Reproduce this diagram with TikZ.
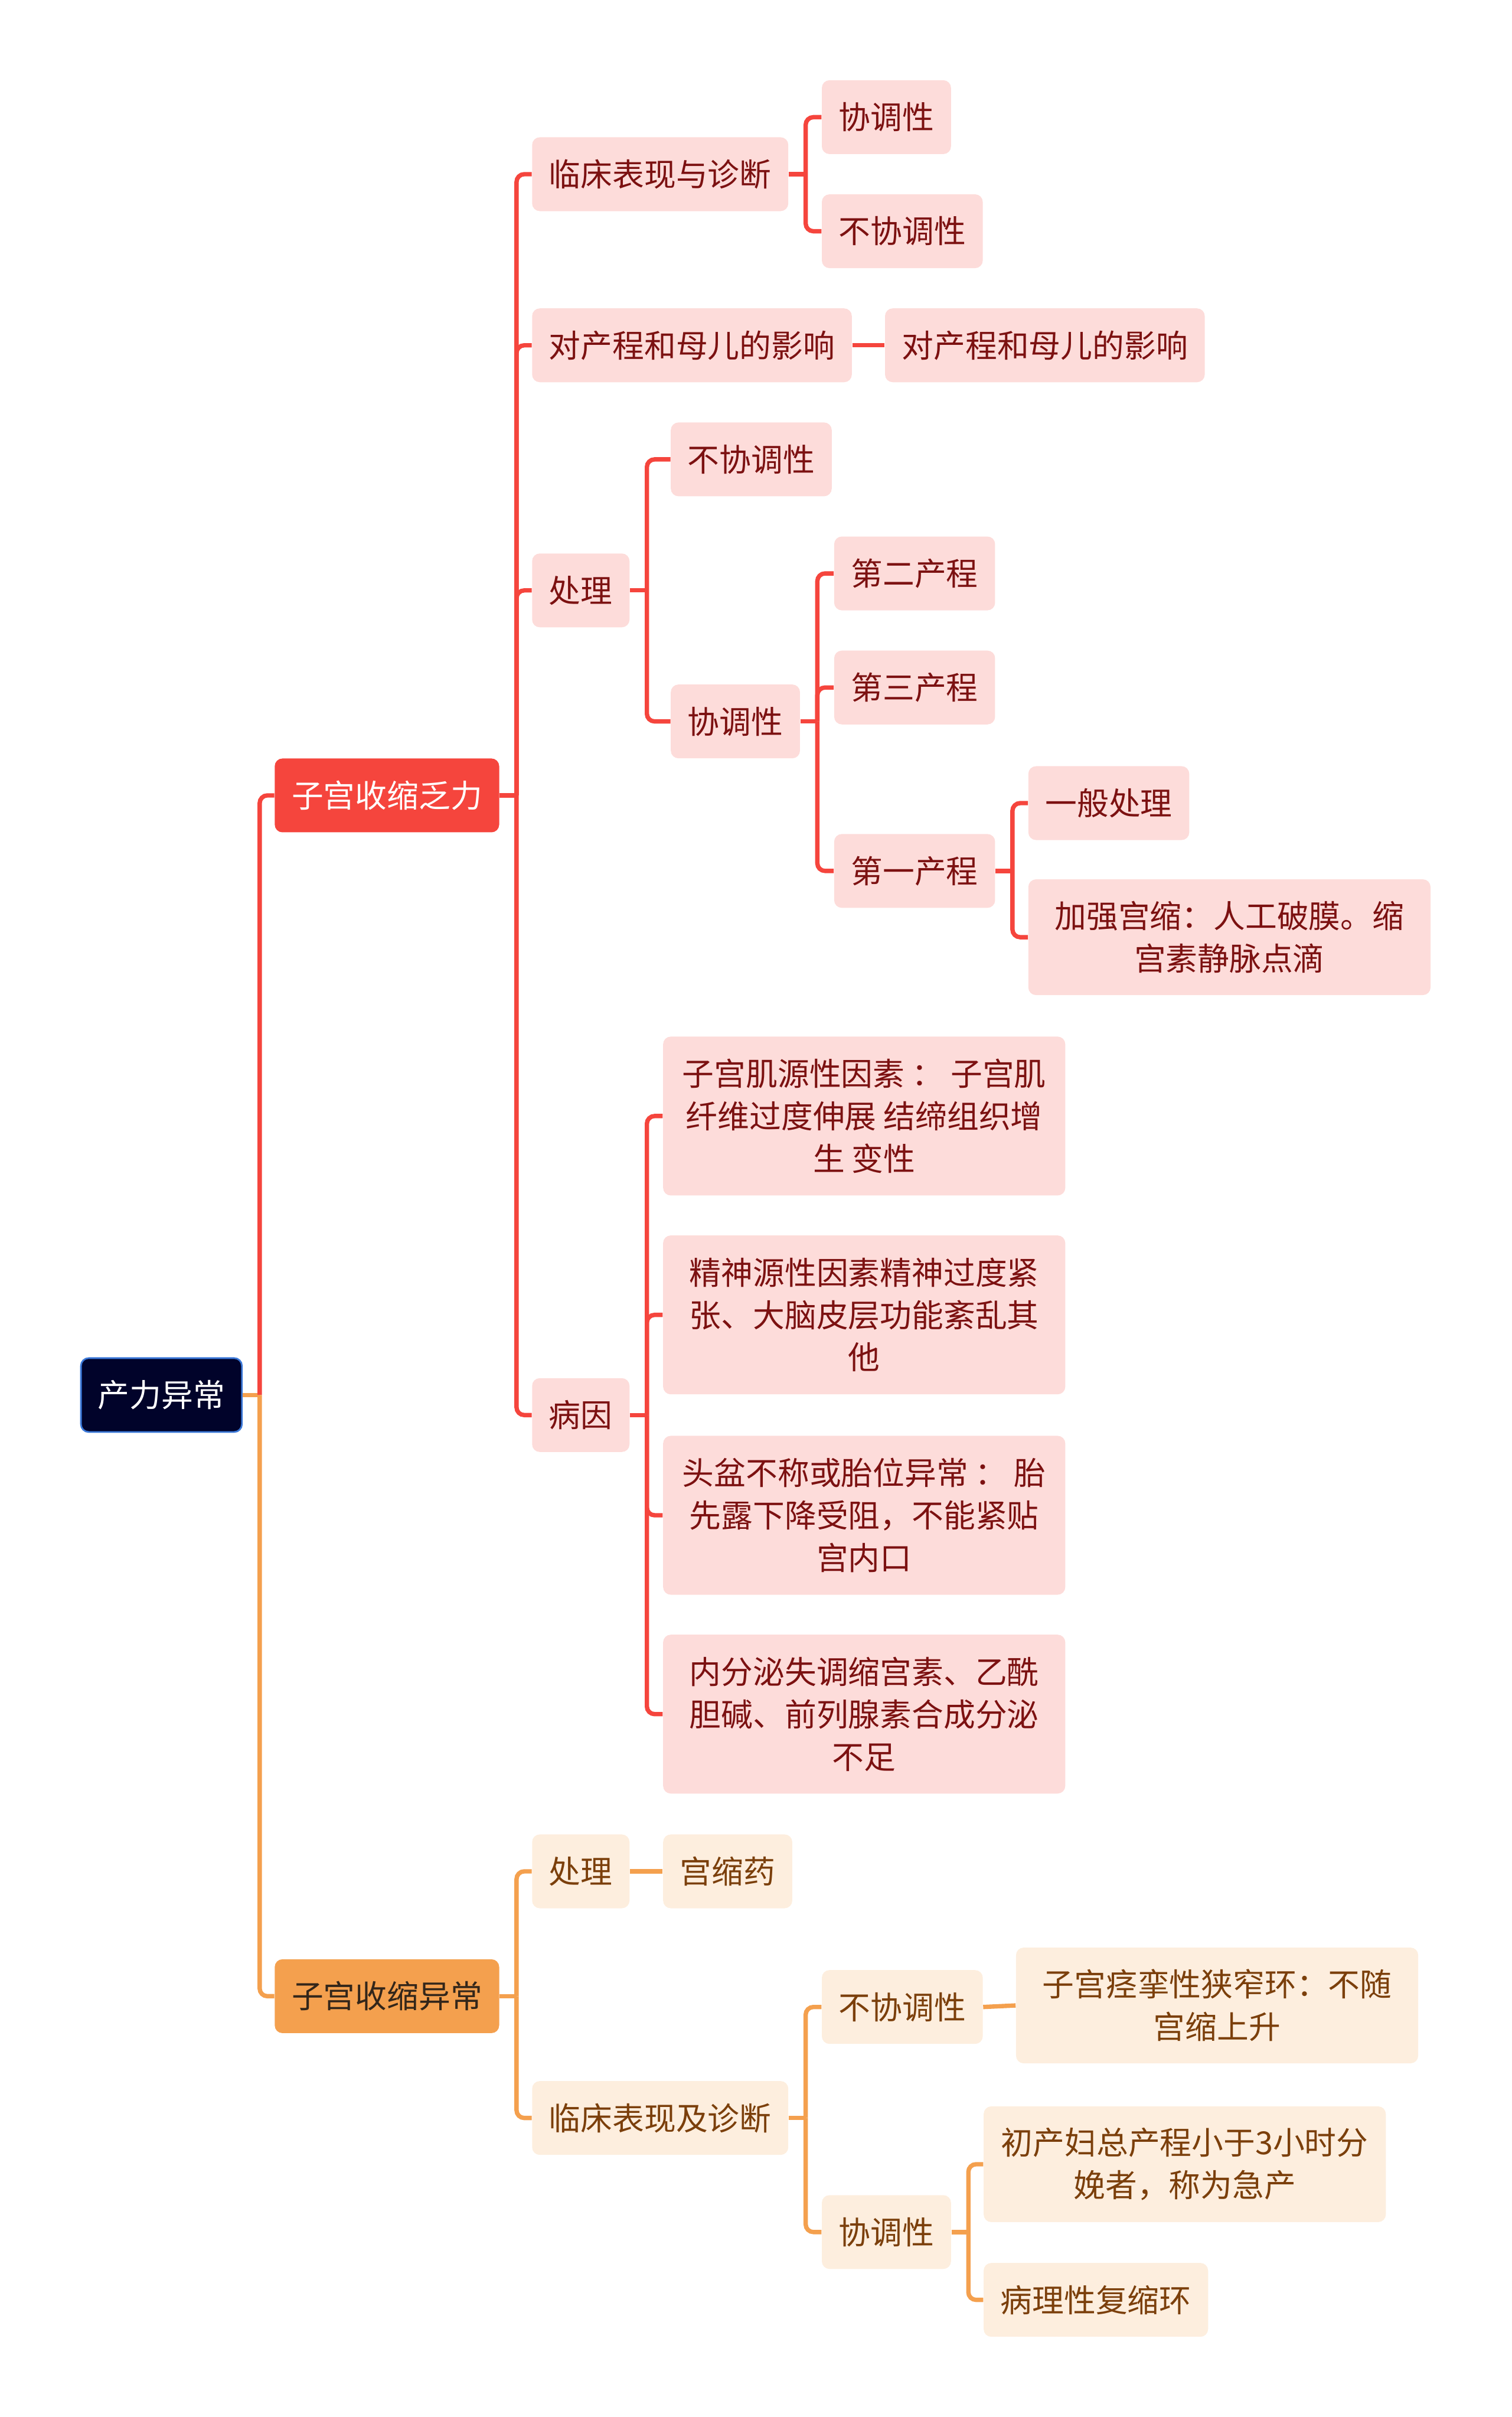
\documentclass[tikz,border=0pt]{standalone}
\usepackage{fontspec}
\newfontfamily\cjkfont{Noto Sans CJK SC}
\usepackage{xcolor}
\definecolor{navy}{HTML}{01032A}
\definecolor{rootline}{HTML}{3B78D8}
\definecolor{redmain}{HTML}{F5453D}
\definecolor{redsoft}{HTML}{FDDCDA}
\definecolor{redtext}{HTML}{7C1111}
\definecolor{orgmain}{HTML}{F4A04E}
\definecolor{orgsoft}{HTML}{FDEEDE}
\definecolor{orgtext}{HTML}{7B3F0B}
\definecolor{orgdark}{HTML}{33261A}

\tikzset{
  box/.style={rounded corners=1.3mm, inner xsep=2.87mm, inner ysep=0pt, minimum height=12.5mm,
    anchor=west, align=center, font=\cjkfont\fontsize{15.3}{20.4}\selectfont},
  rootbox/.style={box, fill=navy, draw=rootline, line width=0.8pt, text=white},
  redtop/.style={box, fill=redmain, text=white},
  redsub/.style={box, fill=redsoft, text=redtext},
  orgtop/.style={box, fill=orgmain, text=orgdark},
  orgsub/.style={box, fill=orgsoft, text=orgtext},
  wide/.style={minimum width=68.1mm, minimum height=#1},
  redln/.style={draw=redmain, line width=2.1pt, rounded corners=1.3mm},
  orgln/.style={draw=orgmain, line width=2.1pt, rounded corners=1.3mm},
}

\begin{document}
\begin{tikzpicture}[x=0.26096mm, y=-0.26096mm]
\useasboundingbox (0,0) rectangle (981,1568);

\node[rootbox] (root) at (52,905) {产力异常};
\node[redtop] (fa) at (178,516) {子宫收缩乏力};
\node[orgtop] (yc) at (178,1295) {子宫收缩异常};

% 子宫收缩乏力
\node[redsub] (lc) at (345,113) {临床表现与诊断};
\node[redsub] (yx) at (345,224) {对产程和母儿的影响};
\node[redsub] (cl) at (345,383) {处理};
\node[redsub] (by) at (345,918) {病因};

\node[redsub] (lcX) at (533,76) {协调性};
\node[redsub] (lcB) at (533,150) {不协调性};
\node[redsub] (yxA) at (574,224) {对产程和母儿的影响};
\node[redsub] (clB) at (435,298) {不协调性};
\node[redsub] (clX) at (435,468) {协调性};
\node[redsub] (cc2) at (541,372) {第二产程};
\node[redsub] (cc3) at (541,446) {第三产程};
\node[redsub] (cc1) at (541,565) {第一产程};
\node[redsub] (ybcl) at (667,521) {一般处理};
\node[redsub, wide=19.6mm] (jqgs) at (667,608) {加强宫缩：人工破膜。缩\\宫素静脉点滴};

\node[redsub, wide=26.9mm] (byA) at (430,724) {子宫肌源性因素 ： 子宫肌\\纤维过度伸展 结缔组织增\\生 变性};
\node[redsub, wide=26.9mm] (byB) at (430,853) {精神源性因素精神过度紧\\张、大脑皮层功能紊乱其\\他};
\node[redsub, wide=26.9mm] (byC) at (430,983) {头盆不称或胎位异常 ： 胎\\先露下降受阻，不能紧贴\\宫内口};
\node[redsub, wide=26.9mm] (byD) at (430,1112) {内分泌失调缩宫素、乙酰\\胆碱、前列腺素合成分泌\\不足};

% 子宫收缩异常
\node[orgsub] (ocl) at (345,1214) {处理};
\node[orgsub] (gsy) at (430,1214) {宫缩药};
\node[orgsub] (olc) at (345,1374) {临床表现及诊断};
\node[orgsub] (olcB) at (533,1302) {不协调性};
\node[orgsub, wide=19.6mm] (jlh) at (659,1301) {子宫痉挛性狭窄环：不随\\宫缩上升};
\node[orgsub] (olcX) at (533,1448) {协调性};
\node[orgsub, wide=19.6mm] (jc) at (638,1404) {初产妇总产程小于3小时分\\娩者，称为急产};
\node[orgsub] (fsh) at (638,1492) {病理性复缩环};

% connectors
\draw[orgln] (root.east) -- ++(11,0) coordinate (rootJ);
\draw[redln] (rootJ) |- (fa.west);
\draw[orgln] (rootJ) |- (yc.west);

\draw[redln] (fa.east) -- ++(11,0) coordinate (faJ);
\draw[redln] (faJ) |- (lc.west);
\draw[redln] (faJ) |- (yx.west);
\draw[redln] (faJ) |- (cl.west);
\draw[redln] (faJ) |- (by.west);

\draw[redln] (lc.east) -- ++(11,0) coordinate (lcJ);
\draw[redln] (lcJ) |- (lcX.west);
\draw[redln] (lcJ) |- (lcB.west);
\draw[redln] (yx.east) -- (yxA.west);

\draw[redln] (cl.east) -- ++(11,0) coordinate (clJ);
\draw[redln] (clJ) |- (clB.west);
\draw[redln] (clJ) |- (clX.west);
\draw[redln] (clX.east) -- ++(11,0) coordinate (clXJ);
\draw[redln] (clXJ) |- (cc2.west);
\draw[redln] (clXJ) |- (cc3.west);
\draw[redln] (clXJ) |- (cc1.west);
\draw[redln] (cc1.east) -- ++(11,0) coordinate (cc1J);
\draw[redln] (cc1J) |- (ybcl.west);
\draw[redln] (cc1J) |- (jqgs.west);

\draw[redln] (by.east) -- ++(11,0) coordinate (byJ);
\draw[redln] (byJ) |- (byA.west);
\draw[redln] (byJ) |- (byB.west);
\draw[redln] (byJ) |- (byC.west);
\draw[redln] (byJ) |- (byD.west);

\draw[orgln] (yc.east) -- ++(11,0) coordinate (ycJ);
\draw[orgln] (ycJ) |- (ocl.west);
\draw[orgln] (ycJ) |- (olc.west);
\draw[orgln] (ocl.east) -- (gsy.west);
\draw[orgln] (olc.east) -- ++(11,0) coordinate (olcJ);
\draw[orgln] (olcJ) |- (olcB.west);
\draw[orgln] (olcJ) |- (olcX.west);
\draw[orgln] (olcB.east) -- (jlh.west);
\draw[orgln] (olcX.east) -- ++(11,0) coordinate (olcXJ);
\draw[orgln] (olcXJ) |- (jc.west);
\draw[orgln] (olcXJ) |- (fsh.west);
\end{tikzpicture}
\end{document}
